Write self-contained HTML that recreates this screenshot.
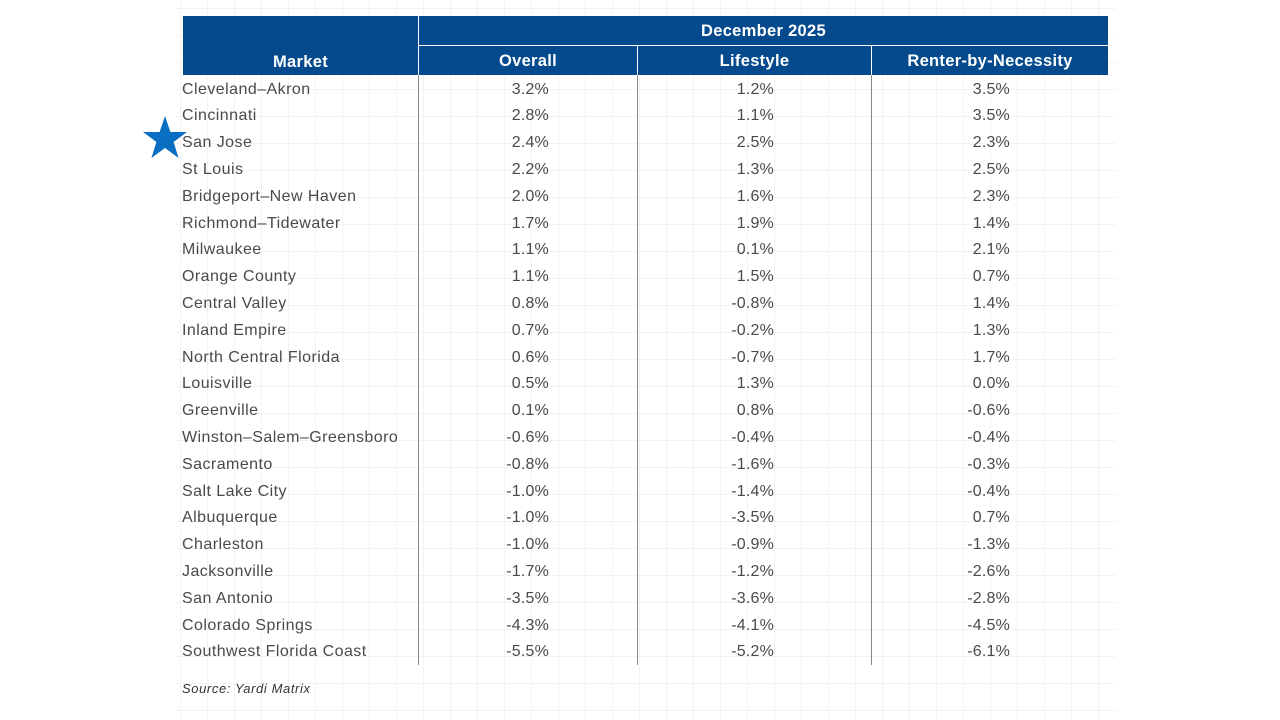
<!DOCTYPE html>
<html><head><meta charset="utf-8"><style>
body{margin:0;width:1280px;height:720px;background:#fff;position:relative;overflow:hidden;font-family:"Liberation Sans",sans-serif;}
.grid{position:absolute;left:176px;top:0;width:940px;height:720px;
background-image:linear-gradient(to right,#f3f3f3 1px,transparent 1px),linear-gradient(to bottom,#f3f3f3 1px,transparent 1px);
background-size:27px 27px;background-position:4px 8px;}
.hd{position:absolute;background:#044a8c;color:#fff;font-weight:bold;font-size:16.5px;text-align:center;letter-spacing:0.3px;}
.t{position:absolute;font-size:16px;color:#4a4a4a;line-height:20px;white-space:nowrap;letter-spacing:0.45px;}
.r{text-align:right;width:120px;letter-spacing:0.2px;}
.vl{position:absolute;width:1px;background:#888;top:75px;height:590px;}
</style></head><body>
<div class="grid"></div>
<div class="hd" style="left:183px;top:16px;width:235px;height:59px;line-height:92px;">Market</div>
<div class="hd" style="left:419px;top:16px;width:689px;height:29px;line-height:30px;">December 2025</div>
<div class="hd" style="left:419px;top:46px;width:218px;height:29px;line-height:31px;">Overall</div>
<div class="hd" style="left:638px;top:46px;width:233px;height:29px;line-height:31px;">Lifestyle</div>
<div class="hd" style="left:872px;top:46px;width:236px;height:29px;line-height:31px;">Renter-by-Necessity</div>
<div class="vl" style="left:418px"></div><div class="vl" style="left:637px"></div><div class="vl" style="left:871px"></div>
<svg style="position:absolute;left:142px;top:116px" width="46" height="44" viewBox="0 0 46 44"><polygon points="23,0 28.4,16 45,16 31.6,26 36.6,42 23,32 9.4,42 14.4,26 1,16 17.6,16" fill="#0a6fc2"/></svg>
<div id="rows"></div>
<div class="t" style="left:182px;top:679px;font-size:13px;font-style:italic;color:#333;letter-spacing:0.6px">Source: Yardi Matrix</div>
<script>
var d=[["Cleveland–Akron","3.2%","1.2%","3.5%"],["Cincinnati","2.8%","1.1%","3.5%"],["San Jose","2.4%","2.5%","2.3%"],["St Louis","2.2%","1.3%","2.5%"],["Bridgeport–New Haven","2.0%","1.6%","2.3%"],["Richmond–Tidewater","1.7%","1.9%","1.4%"],["Milwaukee","1.1%","0.1%","2.1%"],["Orange County","1.1%","1.5%","0.7%"],["Central Valley","0.8%","-0.8%","1.4%"],["Inland Empire","0.7%","-0.2%","1.3%"],["North Central Florida","0.6%","-0.7%","1.7%"],["Louisville","0.5%","1.3%","0.0%"],["Greenville","0.1%","0.8%","-0.6%"],["Winston–Salem–Greensboro","-0.6%","-0.4%","-0.4%"],["Sacramento","-0.8%","-1.6%","-0.3%"],["Salt Lake City","-1.0%","-1.4%","-0.4%"],["Albuquerque","-1.0%","-3.5%","0.7%"],["Charleston","-1.0%","-0.9%","-1.3%"],["Jacksonville","-1.7%","-1.2%","-2.6%"],["San Antonio","-3.5%","-3.6%","-2.8%"],["Colorado Springs","-4.3%","-4.1%","-4.5%"],["Southwest Florida Coast","-5.5%","-5.2%","-6.1%"]];
var h="";d.forEach(function(r,i){var y=(79.5+i*26.8).toFixed(1);
h+='<div class="t" style="left:182px;top:'+y+'px">'+r[0]+'</div>';
h+='<div class="t r" style="left:429px;top:'+y+'px">'+r[1]+'</div>';
h+='<div class="t r" style="left:654px;top:'+y+'px">'+r[2]+'</div>';
h+='<div class="t r" style="left:890px;top:'+y+'px">'+r[3]+'</div>';});
document.getElementById("rows").innerHTML=h;
</script>
</body></html>
